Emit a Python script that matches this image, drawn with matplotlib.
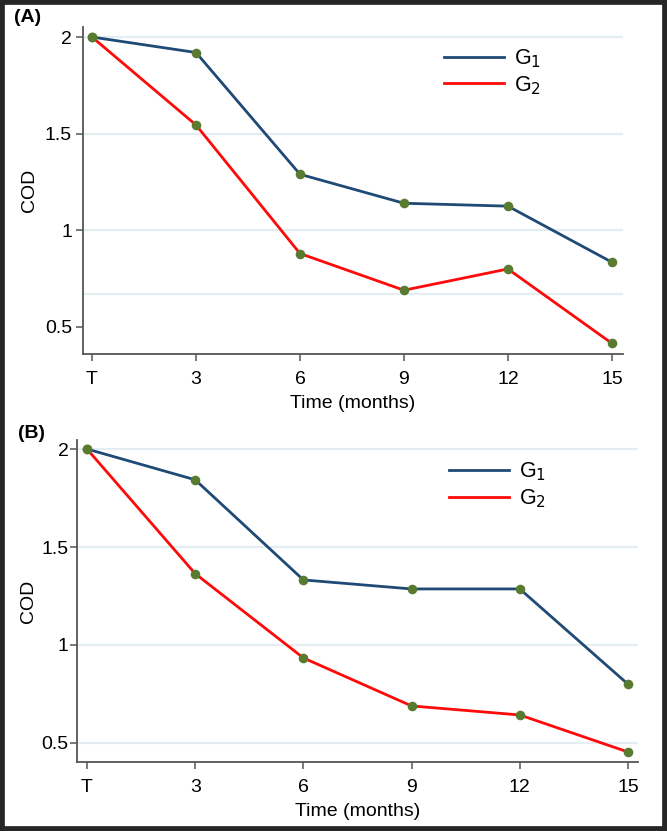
import matplotlib
matplotlib.use("Agg")
import matplotlib.pyplot as plt
from matplotlib.patches import Rectangle

plt.rcParams['font.family'] = ['Liberation Sans', 'DejaVu Sans']

months = [0, 3, 6, 9, 12, 15]
tick_labels = ["T", "3", "6", "9", "12", "15"]

g1_a = [2.0, 1.92, 1.29, 1.14, 1.125, 0.835]
g2_a = [2.0, 1.545, 0.88, 0.69, 0.80, 0.415]

g1_b = [2.0, 1.843, 1.332, 1.286, 1.286, 0.80]
g2_b = [2.0, 1.364, 0.934, 0.689, 0.643, 0.454]

yticks = [0.5, 1.0, 1.5, 2.0]
ytick_labels = ["0.5", "1", "1.5", "2"]
grid_a = [2.0, 1.5, 1.0, 0.67]
grid_b = [2.0, 1.5, 1.0, 0.5]

NAVY = "#1f4a75"
RED = "#ff0a0a"
MARK = "#587b2f"
GRID = "#e4eef2"
SPINE = "#555555"

fig = plt.figure(figsize=(6.67, 8.31), dpi=100)

W, H = 667, 831

def make_axes(l, r, t, b):
    return fig.add_axes([l / W, 1 - b / H, (r - l) / W, (b - t) / H])

axA = make_axes(83, 623, 27, 354)
axB = make_axes(77, 638, 440, 762)

def style(ax, g1, g2, grid, xlim, ylim, leg_anchor, ypad, ylpad):
    for gy in grid:
        ax.axhline(gy, color=GRID, lw=1.6, zorder=0)
    ax.plot(months, g1, color=NAVY, lw=2.0, zorder=2, label="G$_1$")
    ax.plot(months, g2, color=RED, lw=2.0, zorder=2, label="G$_2$")
    ax.scatter(months, g1, s=48, color=MARK, zorder=3, linewidths=0)
    ax.scatter(months, g2, s=48, color=MARK, zorder=3, linewidths=0)
    ax.set_xlim(*xlim)
    ax.set_ylim(*ylim)
    ax.set_xticks(months)
    ax.set_xticklabels(tick_labels)
    ax.set_yticks(yticks)
    ax.set_yticklabels(ytick_labels)
    for s in ["top", "right"]:
        ax.spines[s].set_visible(False)
    for s in ["left", "bottom"]:
        ax.spines[s].set_color(SPINE)
        ax.spines[s].set_linewidth(1.3)
    ax.tick_params(axis="both", colors=SPINE, labelcolor="black",
                   labelsize=14, length=5, width=1.1)
    ax.tick_params(axis="y", pad=ypad)
    ax.tick_params(axis="x", pad=7)
    ax.set_xlabel("Time (months)", fontsize=14, labelpad=5)
    ax.set_ylabel("COD", fontsize=14, labelpad=ylpad)
    leg = ax.legend(loc="upper left", bbox_to_anchor=leg_anchor, frameon=False,
                    fontsize=15.5, handlelength=2.8, handletextpad=0.45,
                    labelspacing=0.2, borderaxespad=0)
    return leg

style(axA, g1_a, g2_a, grid_a, (-0.26, 15.32), (0.36, 2.052), (0.652, 0.965), 3, 5)
style(axB, g1_b, g2_b, grid_b, (-0.277, 15.277), (0.403, 2.046), (0.648, 0.962), 1, 3)

fig.text(14 / W, 1 - 17 / H, "(A)", fontsize=14, fontweight="bold", va="center", ha="left")
fig.text(18 / W, 1 - 433 / H, "(B)", fontsize=14, fontweight="bold", va="center", ha="left")

fig.patches.append(Rectangle((0, 0), 1, 1, transform=fig.transFigure,
                             fill=False, edgecolor="#262626", linewidth=7, zorder=10))

fig.savefig("out.png", dpi=100)
